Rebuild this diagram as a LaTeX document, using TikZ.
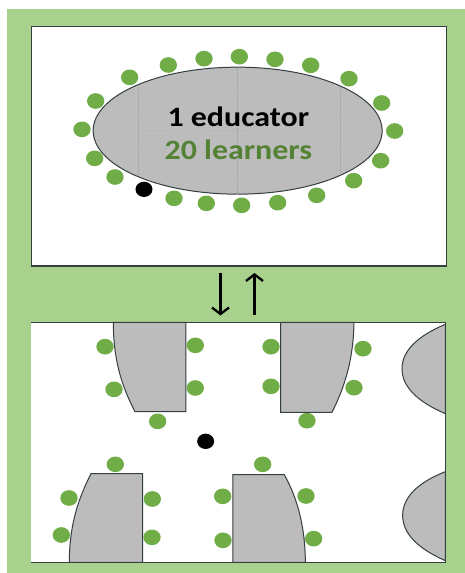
\documentclass[tikz,border=0pt]{standalone}
\usepackage{fontspec}
\setmainfont{Carlito}
\definecolor{panel}{HTML}{A9D18E}
\definecolor{seat}{HTML}{70AD47}
\definecolor{tablegray}{HTML}{BCBCBC}
\definecolor{learnertext}{HTML}{548235}
\definecolor{edge}{HTML}{333F40}
\usetikzlibrary{arrows.meta}
\tikzset{
  seatdot/.style={fill=seat,draw=none},
  teacherdot/.style={fill=black,draw=none},
  tbl/.style={fill=tablegray,draw=edge,line width=1pt},
  room/.style={fill=white,draw=edge,line width=1.1pt},
  grid/.style={draw=gray!70,line width=0.4pt,densely dotted},
  label/.style={font=\bfseries\fontsize{28}{30}\selectfont,inner sep=0pt,anchor=center},
  move/.style={line width=2.7pt,-{Straight Barb[length=6.5pt,width=17pt,line width=2.3pt]}}
}
\begin{document}
\begin{tikzpicture}[x=1pt,y=-1pt]
\useasboundingbox (0,0) rectangle (465,573);
\fill[white] (0,0) rectangle (465,573);
\fill[panel] (7,9) rectangle (465,573);
% top room
\draw[room] (31.5,26.3) rectangle (446.5,266);
\begin{scope}[x=0.33333pt,y=-0.33333pt]
  \draw[tbl] (713,392) ellipse [x radius=433.5,y radius=190.5];
  \draw[grid] (415,262) -- (415,523);
  \draw[grid] (713,203) -- (713,582);
  \draw[grid] (1020,262) -- (1020,523);
  \draw[grid] (415,391) -- (1020,393);
  \foreach \p in {(389,232),(505,195),(612,176),(718,170),(825,178),(932,196),(1047,236),(1145,309),(1184,393),(1142,482),(1061,542),(950,586),(833,608),(725,616),(619,610),(522,595),(345,531),(284,475),(246,388),(287,303)}
    \fill[seatdot] \p ellipse [x radius=26,y radius=23.5];
  \fill[teacherdot] (432,568) ellipse [x radius=25.5,y radius=23];
  \node[label,text=black] (educator) at (715,350) {\scalebox{1.14}[1]{1 educator}};
  \node[label,text=learnertext] (learners) at (715,449) {\scalebox{1.14}[1]{20 learners}};
\end{scope}
% arrows
\coordinate (downstart) at (220.5,273);
\coordinate (downend) at (220.5,315.5);
\coordinate (upstart) at (254.5,315);
\coordinate (upend) at (254.5,273);
\draw[move] (downstart) -- (downend);
\draw[move] (upstart) -- (upend);
% bottom room
\begin{scope}[yshift=-283pt,x=0.33333pt,y=-0.33333pt]
  \fill[white] (93,118) rectangle (1337,838);
  \draw[edge,line width=1pt] (93,119) -- (1337,119) -- (1337,838) -- (93,838);
  \draw[tbl] (340,118) -- (558,118) -- (558,386) -- (405,386) .. controls (360,300) and (340,220) .. cycle;
  \draw[tbl] (842,118) -- (1062,118) .. controls (1060,220) and (1040,300) .. (996,388) -- (842,388) -- cycle;
  \draw[tbl] (273,572) -- (428,572) -- (428,838) -- (208,838) .. controls (208,740) and (228,660) .. cycle;
  \draw[tbl] (699,575) -- (853,575) .. controls (895,650) and (916,740) .. (916,838) -- (699,838) -- cycle;
  \draw[tbl] (1336,124) .. controls (1250,160) and (1206,205) .. (1206,257) .. controls (1206,310) and (1250,355) .. (1336,392) -- cycle;
  \draw[tbl] (1336,566) .. controls (1250,600) and (1208,645) .. (1208,697) .. controls (1208,750) and (1250,795) .. (1336,833) -- cycle;
  \foreach \p in {(315,191),(342,319),(473,415),(586,187),(586,315),(813,191),(813,310),(1089,197),(1062,314),(921,413),(346,544),(207,645),(184,756),(457,648),(456,763),(788,544),(668,640),(669,772),(918,639),(941,767)}
    \fill[seatdot] \p ellipse [x radius=26,y radius=23.5];
  \fill[teacherdot] (617,475) ellipse [x radius=25.5,y radius=23];
\end{scope}
\end{tikzpicture}
\end{document}
